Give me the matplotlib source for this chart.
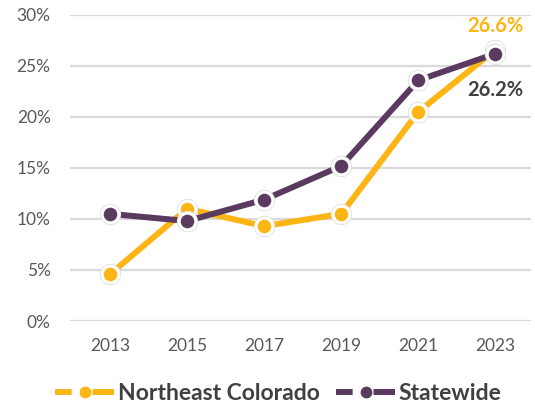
import matplotlib
matplotlib.use("Agg")
import matplotlib.pyplot as plt
from matplotlib.lines import Line2D
from matplotlib.ticker import FuncFormatter

years = [2013, 2015, 2017, 2019, 2021, 2023]
northeast = [4.6, 11.0, 9.3, 10.5, 20.5, 26.6]
statewide = [10.5, 9.8, 11.9, 15.2, 23.6, 26.2]
series_names = ["Northeast Colorado", "Statewide"]
yticks = [0, 5, 10, 15, 20, 25, 30]

YELLOW = "#FDB515"
PURPLE = "#5A3A5F"
TEXT = "#404040"
TICK = "#595959"

plt.rcParams['font.family'] = ['Lato', 'DejaVu Sans']

fig = plt.figure(figsize=(5.35, 4.07), dpi=100)
ax = fig.add_axes([0.131, 0.2113, 0.862, 0.752])

for vals, color, z in [(northeast, YELLOW, 3), (statewide, PURPLE, 4)]:
    ax.plot(years, vals, color=color, lw=4.3, solid_capstyle='round', zorder=z)
    ax.plot(years, vals, ls='none', marker='o', ms=14.5, mfc='none', mec='#dcdcdc', mew=0.8, zorder=z)
    ax.plot(years, vals, ls='none', marker='o', ms=12, mfc=color, mec='white', mew=2.2, zorder=z)

ax.annotate(f"{northeast[-1]:.1f}%", (years[-1], northeast[-1]), xytext=(0, 10), textcoords='offset points',
            ha='center', va='bottom', color=YELLOW, fontsize=14.5, fontweight='bold', zorder=6)
ax.annotate(f"{statewide[-1]:.1f}%", (years[-1], statewide[-1]), xytext=(0, -19), textcoords='offset points',
            ha='center', va='top', color=TEXT, fontsize=14.5, fontweight='bold', zorder=6)

ax.set_xlim(2011.96, 2023.93)
ax.set_ylim(0, 30)
ax.set_yticks(yticks)
ax.yaxis.set_major_formatter(FuncFormatter(lambda v, p: f"{v:.0f}%"))
ax.set_xticks(years)
ax.grid(axis='y', color='#d9d9d9', lw=1.6)
ax.set_axisbelow(True)
for s in ax.spines.values():
    s.set_visible(False)
ax.tick_params(length=0, labelsize=12.5, colors=TICK, pad=12)
ax.tick_params(axis='y', pad=14)

lw = 4.3
dash = (12 / lw, 15 / lw, 16 / lw, 0.001)
handles = [
    Line2D([], [], color=YELLOW, lw=lw, dashes=dash, marker='o', ms=7.5, mec=YELLOW, solid_capstyle='butt', dash_capstyle='butt'),
    Line2D([], [], color=PURPLE, lw=lw, dashes=dash, marker='o', ms=7.5, mec=PURPLE, solid_capstyle='butt', dash_capstyle='butt'),
]
leg = fig.legend(handles, series_names, loc='center', bbox_to_anchor=(0.52, 0.034), ncol=2, frameon=False,
                 handlelength=43 / 16.5, handletextpad=0.15, columnspacing=0.7,
                 prop={'size': 16.5, 'weight': 'bold'})
for t in leg.get_texts():
    t.set_color(TEXT)

fig.savefig("out.png", dpi=100)
